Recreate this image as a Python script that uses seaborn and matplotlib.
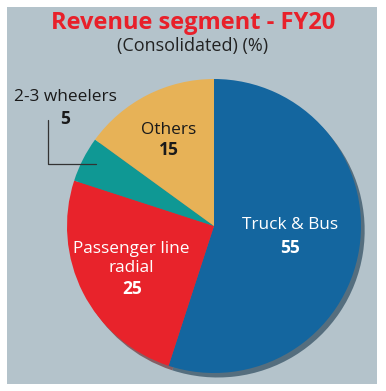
# Revenue segment pie chart - FY20
import matplotlib.pyplot as plt
import seaborn as sns

# Data
segments = ["Truck & Bus", "Passenger line\nradial", "2-3 wheelers", "Others"]
shares = [55, 25, 5, 15]
colors = ["#14669f", "#e8232b", "#0f9894", "#e7b257"]

sns.set_style("white")
plt.rcParams["font.family"] = ["Open Sans", "DejaVu Sans"]

W, H = 386, 391
fig = plt.figure(figsize=(W / 100, H / 100), dpi=100)
fig.patch.set_facecolor("white")

# Gray panel behind everything
panel = plt.Rectangle((7 / W, 1 - 384 / H), 370 / W, 377 / H,
                      transform=fig.transFigure, facecolor="#b4c3cb",
                      edgecolor="none", zorder=-10)
fig.patches.append(panel)

# Pie axes: centre (214, 226) px, radius 147 px
cx, cy, r = 214, 226, 147
ax = fig.add_axes([(cx - r) / W, 1 - (cy + r) / H, 2 * r / W, 2 * r / H])
ax.pie(shares, colors=colors, startangle=90, counterclock=False,
       wedgeprops=dict(linewidth=0),
       shadow=dict(ox=0.018, oy=-0.022, shade=0.6, alpha=0.55))
ax.set_xlim(-1, 1)
ax.set_ylim(-1, 1)
ax.set_aspect("equal")
ax.axis("off")

# Titles
fig.text(0.5, 1 - 23 / H, "Revenue segment - FY20", ha="center", va="center",
         fontsize=17, fontweight="bold", color="#e8202a")
fig.text(0.5, 1 - 46 / H, "(Consolidated) (%)", ha="center", va="center",
         fontsize=13, color="#222222")

# Slice labels
lab_kw = dict(ha="center", va="center", fontsize=12.4, clip_on=False)
num_kw = dict(ha="center", va="center", fontsize=12.5, fontweight="bold", clip_on=False)

ax.text(0.52, 0.01, segments[0], color="white", **lab_kw)
ax.text(0.52, -0.15, str(shares[0]), color="white", **num_kw)

ax.text(-0.56, -0.22, segments[1], color="white", linespacing=1.25, **lab_kw)
ax.text(-0.56, -0.43, str(shares[1]), color="white", **num_kw)

ax.text(-0.31, 0.65, segments[3], color="#1a1a1a", **lab_kw)
ax.text(-0.31, 0.52, str(shares[3]), color="#1a1a1a", **num_kw)

ax.text(-1.01, 0.88, segments[2], color="#1a1a1a", **lab_kw)
ax.text(-1.01, 0.73, str(shares[2]), color="#1a1a1a", **num_kw)

# Leader line for the small slice
ax.plot([-1.13, -1.13, -0.80], [0.72, 0.42, 0.42], color="#333333",
        linewidth=0.9, clip_on=False)

fig.savefig("out.png", dpi=100)
